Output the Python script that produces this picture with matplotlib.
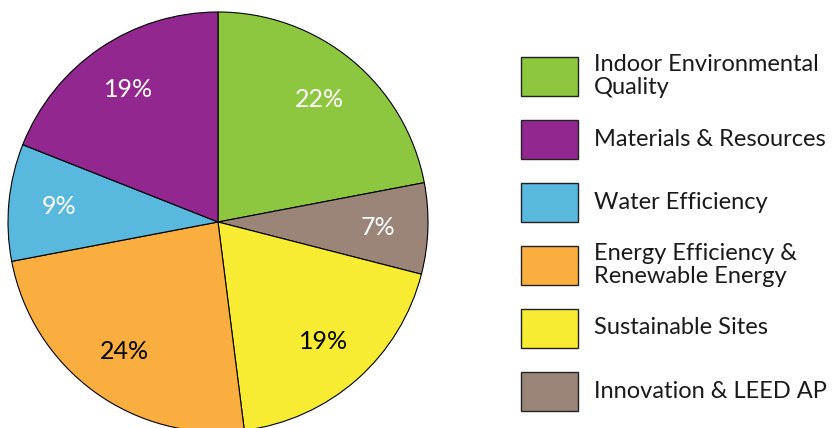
import matplotlib
matplotlib.use('Agg')
import matplotlib.pyplot as plt
from matplotlib.patches import Rectangle

plt.rcParams['font.family'] = ['Lato', 'DejaVu Sans']

# pie order, clockwise from 12 o'clock
categories = ['Indoor Environmental Quality', 'Innovation & LEED AP', 'Sustainable Sites',
              'Energy Efficiency & Renewable Energy', 'Water Efficiency', 'Materials & Resources']
shares = [22, 7, 19, 24, 9, 19]
colors = ['#8DC63F', '#9B8579', '#F7EC31', '#F9AE3F', '#58B8DD', '#92278F']
text_colors = ['white', 'white', 'black', 'black', 'white', 'white']

# legend order, top to bottom
legend_labels = ['Indoor Environmental\nQuality', 'Materials & Resources', 'Water Efficiency',
                 'Energy Efficiency &\nRenewable Energy', 'Sustainable Sites', 'Innovation & LEED AP']
legend_colors = ['#8DC63F', '#92278F', '#58B8DD', '#F9AE3F', '#F7EC31', '#9B8579']

W, H = 835, 428
fig = plt.figure(figsize=(W / 100, H / 100), dpi=100)

lim = 1.02
size = 420 * lim
cx, cy = 218, 428 - 222
ax = fig.add_axes([(cx - size / 2) / W, (cy - size / 2) / H, size / W, size / H])
wedges, texts, autotexts = ax.pie(shares, colors=colors, startangle=90, counterclock=False,
                                  autopct='%d%%', pctdistance=0.76,
                                  wedgeprops=dict(edgecolor='black', linewidth=0.8))
for t, c in zip(autotexts, text_colors):
    t.set_color(c)
    t.set_fontsize(18)
ax.set_xlim(-lim, lim)
ax.set_ylim(-lim, lim)
ax.set_aspect('equal')
ax.axis('off')

# legend drawn by hand in pixel coords
lax = fig.add_axes([0, 0, 1, 1])
lax.set_xlim(0, W)
lax.set_ylim(H, 0)
lax.axis('off')
row0, step = 76, 63
for i, (lab, col) in enumerate(zip(legend_labels, legend_colors)):
    y = row0 + i * step
    lax.add_patch(Rectangle((521, y - 19.5), 57, 39, facecolor=col, edgecolor='#222222', linewidth=1))
    lax.text(594, y, lab, fontsize=17, va='center', ha='left', linespacing=1.1, color='#1a1a1a')

fig.savefig('out.png', dpi=100)
